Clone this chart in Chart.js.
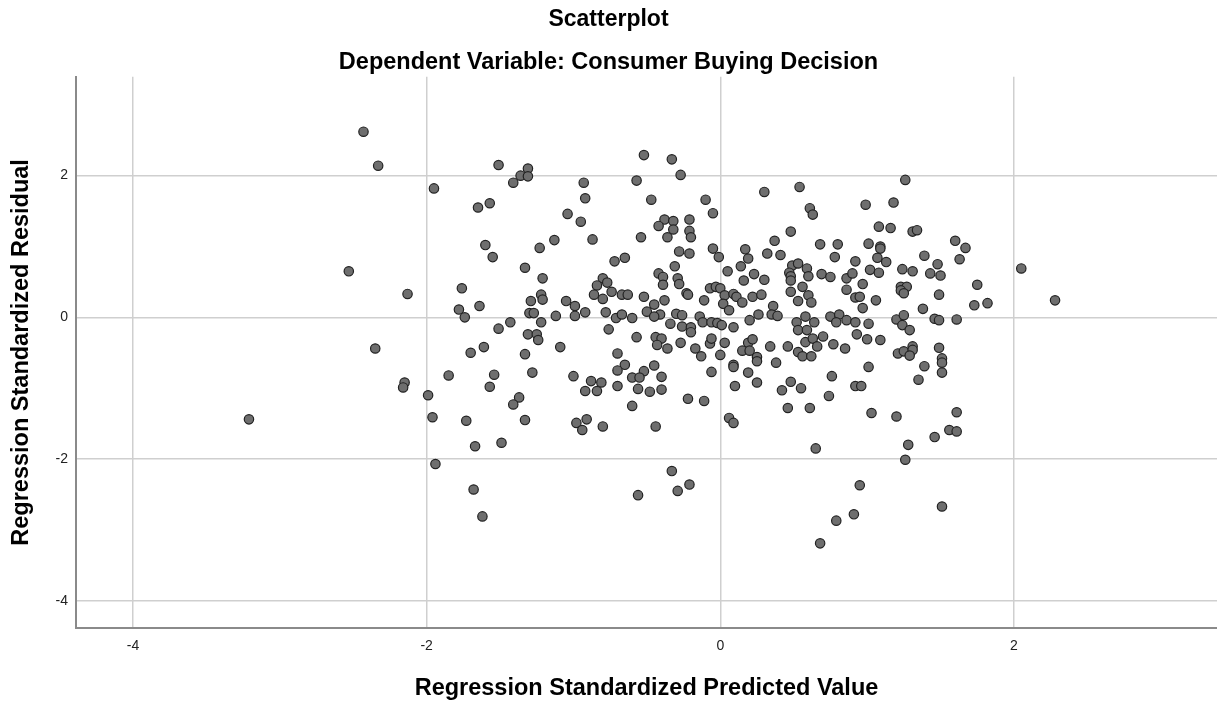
<!DOCTYPE html>
<html>
<head>
<meta charset="utf-8">
<script src="https://cdn.jsdelivr.net/npm/chart.js@4/dist/chart.umd.min.js"></script>
<style>
  html, body { margin: 0; padding: 0; background: #fff; }
  #wrap { width: 1217px; height: 703px; }
</style>
</head>
<body>
<div id="wrap"><canvas id="chart" width="1217" height="703"></canvas></div>
<script>
// regression standardized predicted value (x) and residual (y)
const predicted = [
  -3.21,-2.53,-2.43,-2.33,-2.35,-1.95,-2.13,-2.15,-2.16,-1.99,-1.85,-1.96,-1.94,
  -1.51,-1.31,-1.36,-1.31,-1.41,-1.65,-1.57,-0.93,-0.92,-1.04,-0.95,-1.13,-0.87,-1.23,-1.60,-1.55,-1.33,-1.21,-0.72,-0.65,
  -1.76,-1.78,-1.74,-1.64,-1.51,-1.43,-1.29,-1.22,-1.21,-1.30,-1.27,-1.22,-1.12,-1.05,-0.99,-0.99,-0.92,
  -0.80,-0.84,-0.77,-0.86,-0.80,-0.74,-0.67,-0.63,-0.78,-0.71,-0.67,-0.60,-0.76,-0.57,-1.31,-1.25,
  -1.24,-1.70,-1.61,-1.33,-1.09,-0.70,-0.65,-0.70,-1.54,-1.57,-1.28,-1.37,-1.41,-1.00,-0.88,-0.81,-0.92,-0.84,-0.70,-0.60,-0.56,-0.60,
  -1.73,-1.33,-0.98,-0.91,-0.94,-0.80,-1.67,-1.49,-1.68,-1.62,-0.56,
  -0.52,-0.33,-0.27,-0.57,-0.47,-0.10,-0.05,0.30,0.54,0.61,0.63,-0.38,-0.32,-0.42,-0.32,-0.21,-0.21,-0.20,-0.36,-0.54,
  0.48,0.37,0.68,0.80,0.78,-0.28,-0.21,-0.05,-0.01,0.17,0.19,0.32,0.41,-0.31,-0.42,-0.39,-0.39,-0.29,-0.28,
  0.05,0.14,0.16,0.23,0.30,0.49,0.47,0.48,0.53,0.59,0.60,0.56,0.48,0.69,0.75,0.86,0.86,
  -0.52,-0.38,-0.23,-0.22,-0.11,-0.07,-0.03,0.00,0.03,0.02,0.09,0.11,0.15,0.22,0.28,0.48,0.53,0.60,0.62,0.36,
  -0.50,-0.45,-0.41,-0.45,-0.30,-0.26,-0.34,-0.26,-0.20,-0.20,-0.14,-0.12,-0.06,-0.02,0.01,0.06,0.09,
  0.20,0.26,0.35,0.39,0.52,0.58,0.64,0.53,0.59,0.75,0.81,0.79,0.86,
  -0.44,-0.40,-0.43,-0.36,-0.27,-0.17,-0.13,-0.07,-0.06,0.03,0.00,0.09,0.09,0.15,0.19,0.22,0.20,0.25,0.25,0.19,0.25,0.10,-0.06,
  0.34,0.38,0.46,0.53,0.56,0.58,0.62,0.63,0.66,0.70,0.77,0.85,0.48,0.42,0.55,0.76,0.46,0.61,0.74,
  -0.45,-0.52,-0.55,-0.40,-0.48,-0.40,-0.22,-0.11,-0.44,0.06,0.09,0.65,-0.33,-0.29,-0.21,0.79,0.68,
  1.26,0.99,1.18,1.08,1.16,1.31,1.34,1.60,1.67,1.63,1.01,1.09,1.09,0.92,1.07,1.13,1.39,1.02,1.08,1.24,1.31,1.43,1.48,1.50,
  0.90,0.97,0.92,0.95,0.97,1.06,1.23,1.27,1.23,1.25,1.49,1.75,1.73,1.82,1.38,2.05,2.28,
  0.92,1.01,1.20,1.25,1.24,1.29,1.46,1.49,1.61,0.93,1.00,1.09,
  1.21,1.25,1.31,1.31,1.29,1.49,1.51,1.51,1.51,1.39,1.35,1.01,0.92,0.96,1.03,1.20,1.61,1.56,1.61,1.46,1.28,1.26,0.95,0.91,1.51
];
const residual = [
  -1.44,0.65,2.62,2.14,-0.44,1.82,0.33,-0.92,-0.99,-1.10,-0.82,-1.41,-2.07,
  2.15,2.10,2.00,1.99,1.90,1.55,1.61,1.90,1.68,1.46,1.35,1.09,1.10,0.98,1.02,0.85,0.70,0.55,0.79,0.84,
  0.41,0.11,0.00,0.16,-0.16,-0.07,0.23,0.32,0.25,0.06,0.06,-0.07,0.02,0.23,0.16,0.02,0.07,
  0.55,0.45,0.49,0.32,0.26,0.36,0.32,0.32,0.07,-0.01,0.04,-0.01,-0.17,-0.28,-0.24,-0.24,
  -0.32,-0.50,-0.42,-0.52,-0.42,-0.51,-0.67,-0.75,-0.81,-0.98,-0.78,-1.13,-1.23,-0.83,-0.90,-0.92,-1.04,-1.04,-0.97,-0.85,-1.01,-1.25,
  -1.46,-1.45,-1.49,-1.44,-1.59,-1.54,-1.82,-1.77,-2.43,-2.81,-2.51,
  2.29,2.23,2.01,1.93,1.66,1.66,1.47,1.77,1.84,1.54,1.45,1.38,1.36,1.29,1.24,1.38,1.22,1.13,1.13,1.13,
  1.21,1.08,1.03,1.03,0.85,0.93,0.90,0.97,0.85,0.96,0.83,0.90,0.88,0.72,0.62,0.57,0.46,0.55,0.47,
  0.65,0.72,0.52,0.61,0.53,0.73,0.63,0.58,0.76,0.69,0.58,0.43,0.52,0.61,0.57,0.55,0.39,
  0.29,0.24,0.34,0.32,0.24,0.41,0.43,0.41,0.31,0.19,0.33,0.29,0.21,0.29,0.32,0.36,0.23,0.31,0.21,0.16,
  0.08,0.18,0.04,0.01,0.05,0.03,-0.09,-0.13,-0.14,-0.21,0.01,-0.07,-0.07,-0.08,-0.11,0.10,-0.14,
  -0.04,0.04,0.04,0.02,-0.07,0.01,-0.07,-0.18,-0.18,0.01,0.04,-0.07,-0.04,
  -0.28,-0.30,-0.39,-0.44,-0.36,-0.44,-0.55,-0.37,-0.30,-0.36,-0.53,-0.67,-0.70,-0.47,-0.36,-0.31,-0.47,-0.56,-0.62,-0.78,-0.92,-0.97,-0.77,
  -0.41,-0.64,-0.41,-0.49,-0.55,-0.35,-0.55,-0.30,-0.41,-0.27,-0.38,-0.44,-0.91,-1.03,-1.00,-0.83,-1.28,-1.28,-1.11,
  -0.68,-0.76,-0.85,-0.84,-1.05,-1.02,-1.15,-1.18,-1.54,-1.42,-1.49,-1.85,-2.17,-2.45,-2.36,-2.87,-3.19,
  1.94,1.59,1.62,1.28,1.26,1.21,1.23,1.08,0.98,0.82,1.04,1.00,0.97,0.79,0.84,0.78,0.87,0.67,0.63,0.68,0.65,0.62,0.75,0.59,
  0.62,0.47,0.28,0.29,0.13,0.24,0.43,0.43,0.38,0.34,0.32,0.46,0.17,0.20,0.12,0.69,0.24,
  -0.07,-0.09,-0.03,0.03,-0.11,-0.18,-0.02,-0.04,-0.03,-0.24,-0.31,-0.32,
  -0.51,-0.48,-0.41,-0.46,-0.54,-0.43,-0.58,-0.64,-0.78,-0.69,-0.88,-0.70,-0.97,-0.97,-1.35,-1.40,-1.34,-1.59,-1.61,-1.69,-1.80,-2.01,-2.37,-2.78,-2.67
];

const xTicks = [-4, -2, 0, 2];
const yTicks = [-4, -2, 0, 2];
const xRange = [-4.388, 3.383];
const yRange = [-4.385, 3.395];

const fontFamily = 'Arial, "Liberation Sans", sans-serif';
const points = predicted.map((x, i) => ({ x: x, y: residual[i] }));

new Chart(document.getElementById('chart'), {
  type: 'scatter',
  data: {
    datasets: [{
      data: points,
      backgroundColor: '#6e6e6e',
      borderColor: '#222',
      borderWidth: 1.2,
      pointRadius: 4.7,
      pointHoverRadius: 4.7
    }]
  },
  options: {
    responsive: false,
    animation: false,
    layout: { padding: 0, autoPadding: false },
    plugins: {
      legend: { display: false },
      tooltip: { enabled: false },
      title: {
        display: true,
        text: 'Scatterplot',
        color: '#000',
        font: { family: fontFamily, size: 23, weight: 'bold' },
        padding: { top: 6, bottom: 0 }
      },
      subtitle: {
        display: true,
        text: 'Dependent Variable: Consumer Buying Decision',
        color: '#000',
        font: { family: fontFamily, size: 23.5, weight: 'bold' },
        padding: { top: 14.5, bottom: 0.5 }
      }
    },
    scales: {
      x: {
        type: 'linear',
        min: xRange[0],
        max: xRange[1],
        afterBuildTicks: s => { s.ticks = xTicks.map(v => ({ value: v })); },
        afterFit: s => { s.height = 75; },
        grid: { color: '#cfcfcf', lineWidth: 1.5, drawTicks: false },
        border: { color: '#8a8a8a', width: 2 },
        ticks: { padding: 10, color: '#222', font: { family: fontFamily, size: 14 } },
        title: {
          display: true,
          text: 'Regression Standardized Predicted Value',
          color: '#000',
          font: { family: fontFamily, size: 23.5, weight: 'bold' },
          padding: { top: 0, bottom: 0 }
        }
      },
      y: {
        type: 'linear',
        min: yRange[0],
        max: yRange[1],
        afterBuildTicks: s => { s.ticks = yTicks.map(v => ({ value: v })); },
        afterFit: s => { s.width = 76; },
        grid: { color: '#cfcfcf', lineWidth: 1.5, drawTicks: false },
        border: { color: '#8a8a8a', width: 2 },
        ticks: { padding: 8, color: '#222', font: { family: fontFamily, size: 14 } },
        title: {
          display: true,
          text: 'Regression Standardized Residual',
          color: '#000',
          font: { family: fontFamily, size: 23.5, weight: 'bold' },
          padding: { top: 7, bottom: 0 }
        }
      }
    }
  }
});
</script>
</body>
</html>
